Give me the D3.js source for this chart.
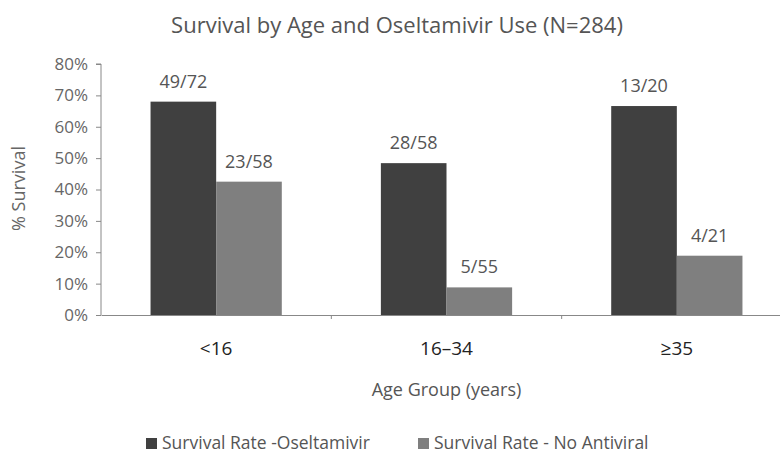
<!DOCTYPE html>
<html>
    <head>
        <meta charset="UTF-8">
        <script src="https://cdn.jsdelivr.net/npm/d3@7"></script>
        <style>
            body { margin: 0; background: #fff; }
            text { font-family: "Open Sans", sans-serif; }
        </style>
    </head>
    <body>
        <div id="ChartContainer"></div>
    </body>
    <script>
        // values
        const age_groups = ["<16", "16\u201334", "\u226535"]
        const series_names = ["Survival Rate -Oseltamivir", "Survival Rate - No Antiviral"]
        const oseltamivir = [68.0, 48.4, 66.6]
        const no_antiviral = [42.5, 8.8, 18.9]
        const oseltamivir_labels = ["49/72", "28/58", "13/20"]
        const no_antiviral_labels = ["23/58", "5/55", "4/21"]
        const y_ticks = [0, 10, 20, 30, 40, 50, 60, 70, 80]

        const width = 780
        const height = 454
        const margin = { top: 64, right: -12, bottom: 139, left: 101 }
        const colors = ["#404040", "#7f7f7f"]

        const rows = age_groups.map((group, i) => ({
            group: group,
            bars: [
                { series: series_names[0], value: oseltamivir[i], label: oseltamivir_labels[i] },
                { series: series_names[1], value: no_antiviral[i], label: no_antiviral_labels[i] }
            ]
        }))

        const svg = d3.select("#ChartContainer")
            .append("svg")
            .attr("width", width)
            .attr("height", height)

        const x = d3.scaleBand()
            .domain(age_groups)
            .range([margin.left, width - margin.right])

        const x1 = d3.scaleBand()
            .domain(series_names)
            .range([0, x.bandwidth()])
            .paddingOuter(0.755)

        const y = d3.scaleLinear()
            .domain([0, 80])
            .range([height - margin.bottom, margin.top])

        const color = d3.scaleOrdinal()
            .domain(series_names)
            .range(colors)

        // title
        svg.append("text")
            .attr("x", 397)
            .attr("y", 33)
            .attr("text-anchor", "middle")
            .style("font-size", "22px")
            .style("fill", "#555")
            .text("Survival by Age and Oseltamivir Use (N=284)")

        // y axis
        const y_axis = svg.append("g")
            .attr("transform", `translate(${margin.left},0)`)
            .call(d3.axisLeft(y).tickValues(y_ticks).tickSize(5).tickPadding(8).tickFormat(d => d + "%"))
        y_axis.select(".domain").attr("stroke", "#888").attr("d", `M-5,${y(80)}H0V${y(0)}`)
        y_axis.selectAll(".tick line").attr("stroke", "#888")
        y_axis.selectAll(".tick text")
            .style("font-size", "17px")
            .style("fill", "#666")
            .style("font-family", "Open Sans, sans-serif")

        svg.append("text")
            .attr("transform", `translate(25,${(y(0) + y(80)) / 2 - 1}) rotate(-90)`)
            .attr("text-anchor", "middle")
            .style("font-size", "18px")
            .style("fill", "#666")
            .text("% Survival")

        // bars
        const groups = svg.selectAll("g.group")
            .data(rows)
            .enter()
            .append("g")
            .attr("class", "group")
            .attr("transform", d => `translate(${x(d.group)},0)`)

        groups.selectAll("rect")
            .data(d => d.bars)
            .enter()
            .append("rect")
            .attr("x", d => x1(d.series))
            .attr("width", x1.bandwidth())
            .attr("y", d => y(d.value))
            .attr("height", d => y(0) - y(d.value))
            .attr("fill", d => color(d.series))

        groups.selectAll("text.bar-label")
            .data(d => d.bars)
            .enter()
            .append("text")
            .attr("class", "bar-label")
            .attr("x", d => x1(d.series) + x1.bandwidth() / 2)
            .attr("y", d => y(d.value) - 14)
            .attr("text-anchor", "middle")
            .style("font-size", "18px")
            .style("fill", "#555")
            .text(d => d.label)

        // x axis
        const x_axis = svg.append("g")
            .attr("transform", `translate(0,${y(0)})`)
            .call(d3.axisBottom(x).tickSize(0).tickPadding(27))
        x_axis.select(".domain").attr("stroke", "#888")
        x_axis.selectAll(".tick text")
            .style("font-size", "19px")
            .style("fill", "#222")
            .style("font-family", "Open Sans, sans-serif")

        // small ticks between groups
        svg.selectAll("line.sep")
            .data(age_groups.slice(1))
            .enter()
            .append("line")
            .attr("class", "sep")
            .attr("x1", d => x(d))
            .attr("x2", d => x(d))
            .attr("y1", y(0))
            .attr("y2", y(0) + 4)
            .attr("stroke", "#888")

        svg.append("text")
            .attr("x", x(age_groups[1]) + x.bandwidth() / 2)
            .attr("y", 396)
            .attr("text-anchor", "middle")
            .style("font-size", "18px")
            .style("fill", "#555")
            .text("Age Group (years)")

        // legend
        const legend_x = [146, 418]
        const legend = svg.selectAll("g.legend")
            .data(series_names)
            .enter()
            .append("g")
            .attr("class", "legend")
            .attr("transform", (d, i) => `translate(${legend_x[i]},443)`)

        legend.append("rect")
            .attr("x", 0)
            .attr("y", -5)
            .attr("width", 11)
            .attr("height", 11)
            .attr("fill", d => color(d))

        legend.append("text")
            .attr("x", 16)
            .attr("y", 6)
            .style("font-size", "17.5px")
            .style("fill", "#555")
            .text(d => d)
    </script>
</html>
